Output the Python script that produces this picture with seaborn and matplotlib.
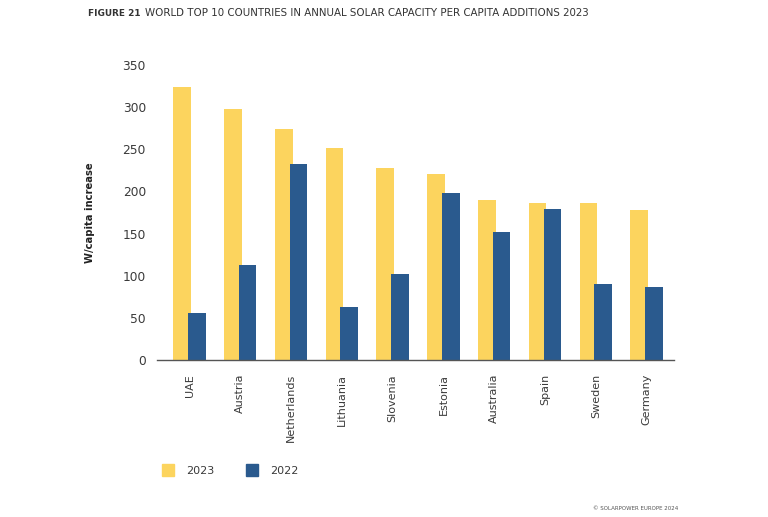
import pandas as pd
import seaborn as sns
import matplotlib.pyplot as plt
from matplotlib.lines import Line2D

countries = ['UAE', 'Austria', 'Netherlands', 'Lithuania', 'Slovenia',
             'Estonia', 'Australia', 'Spain', 'Sweden', 'Germany']
values_2023 = [324, 298, 274, 251, 228, 221, 190, 186, 186, 178]
values_2022 = [56, 113, 232, 63, 102, 198, 152, 179, 90, 87]
years = ['2023', '2022']

yellow = '#FCD45E'
blue = '#2A5A8E'
text_color = '#3a3a3a'

df = pd.DataFrame({
    'country': countries * 2,
    'year': ['2023'] * len(countries) + ['2022'] * len(countries),
    'value': values_2023 + values_2022,
})

sns.set_theme(style='white')
plt.rcParams['font.family'] = ['DejaVu Sans']

fig = plt.figure(figsize=(7.68, 5.17), dpi=100)
ax = fig.add_axes([157 / 768, 1 - 360 / 517, 517 / 768, 295 / 517])

sns.barplot(data=df, x='country', y='value', hue='year', hue_order=years,
            palette=[yellow, blue], width=0.58, gap=-0.2, saturation=1,
            linewidth=0, legend=False, ax=ax)

ax.set_ylim(0, 350)
ax.set_xlim(-0.64, 9.54)
ax.set_yticks(range(0, 351, 50))
ax.tick_params(axis='y', length=0, colors=text_color, labelsize=8.8, pad=8)
ax.tick_params(axis='x', length=0, colors=text_color, labelsize=8, pad=10)
plt.setp(ax.get_xticklabels(), rotation=90, va='top')
ax.set_xlabel('')
ax.set_ylabel('W/capita increase', fontsize=7.2, fontweight='bold',
              color='#222222', labelpad=20)
for side in ['top', 'right', 'left']:
    ax.spines[side].set_visible(False)
ax.spines['bottom'].set_color('#555555')
ax.spines['bottom'].set_linewidth(1)

fig.text(88 / 768, 1 - 13 / 517, 'FIGURE 21', fontsize=6.4, fontweight='bold',
         color='#333333', va='center')
fig.text(145 / 768, 1 - 13 / 517,
         'WORLD TOP 10 COUNTRIES IN ANNUAL SOLAR CAPACITY PER CAPITA ADDITIONS 2023',
         fontsize=7.4, color='#333333', va='center')

handles = [Line2D([], [], marker='s', linestyle='', markersize=9, color=c)
           for c in [yellow, blue]]
fig.legend(handles, years, loc='center left', bbox_to_anchor=(147 / 768, 1 - 471 / 517),
           ncol=2, frameon=False, fontsize=8, handletextpad=0.6,
           columnspacing=2.4, labelcolor=text_color)

fig.text(593 / 768, 1 - 508 / 517, '© SOLARPOWER EUROPE 2024', fontsize=4,
         color='#555555', va='center')

fig.savefig('out.png', dpi=100)
